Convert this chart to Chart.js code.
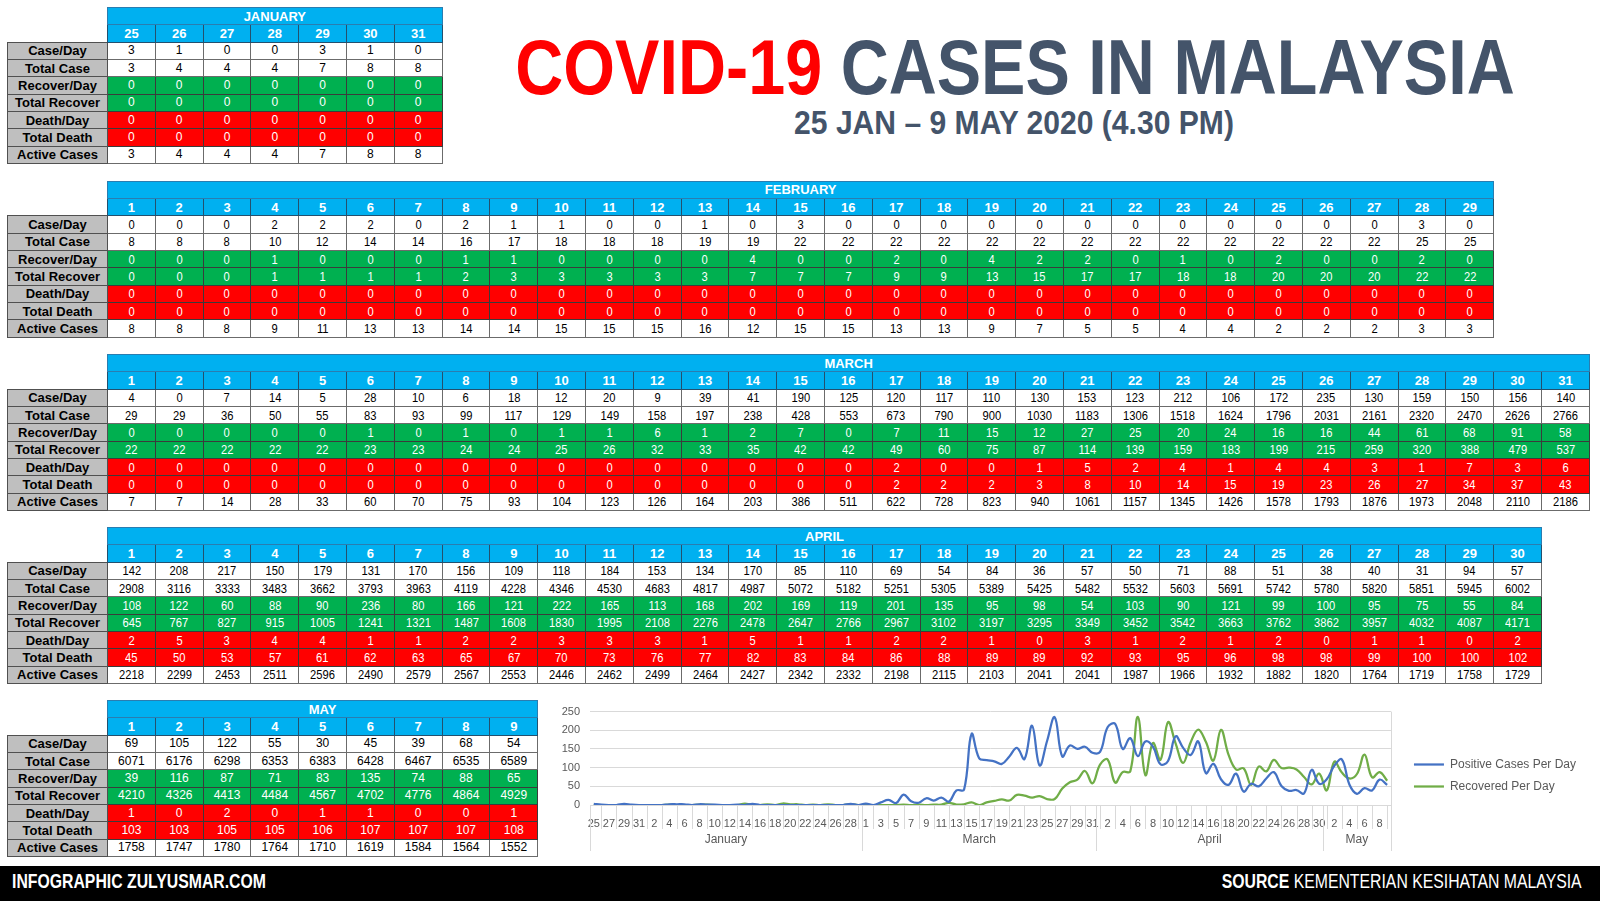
<!DOCTYPE html>
<html>
<head>
<meta charset="utf-8">
<script src="https://cdn.jsdelivr.net/npm/chart.js@4.4.0/dist/chart.umd.min.js"></script>
<style>
  html, body { margin: 0; padding: 0; background: #fff; }
  body { width: 1600px; height: 901px; position: relative; overflow: hidden;
         font-family: "Liberation Sans", Arial, sans-serif; }
  .tbl { position: absolute; left: 7px; border-collapse: collapse; table-layout: fixed; }
  .tbl td { padding: 0; height: 16.35px; text-align: center; font-size: 12px; line-height: 15px;
            white-space: nowrap; overflow: hidden; border: 1px solid #3b3b3b; }
  .tbl td.blank { border: none; background: transparent; }
  .tbl td.month { background: #00B0F0; color: #fff; font-weight: bold; font-size: 13px;
                  border: 1px solid #2a7db0; }
  .tbl td.date { background: #00B0F0; color: #fff; font-weight: bold; font-size: 13px;
                 border-color: #24506e; }
  .tbl td.lab { background: #BFBFBF; color: #000; font-weight: bold; font-size: 13px;
                border-color: #505050; }
  .tbl td.w { background: #fff; color: #000; border-color: #6b6b6b; }
  .tbl td.g { background: #00B050; color: #fff; }
  .tbl td.r { background: #FF0000; color: #fff; }
  .tbl.narrow td.w, .tbl.narrow td.g, .tbl.narrow td.r { font-size: 13px; }
  .tbl.narrow span { display: inline-block; transform: scaleX(0.86); }
  #title { position: absolute; left: 1015px; top: 28px; font-weight: bold; font-size: 78px;
           line-height: 78px; color: #44546A; white-space: nowrap;
           transform: translateX(-50%) scaleX(0.853); }
  #title .red { color: #FF0000; }
  #sub { position: absolute; left: 1014px; top: 105px; font-weight: bold; font-size: 34px;
         line-height: 34px; color: #44546A; white-space: nowrap;
         transform: translateX(-50%) scaleX(0.885); }
  #footer { position: absolute; left: 0; top: 866px; width: 1600px; height: 35px; background: #000; }
  #footer .l { position: absolute; left: 12px; top: 5px; font: bold 20px/20px "Liberation Sans", Arial, sans-serif;
               color: #fff; white-space: nowrap; transform: scaleX(0.79); transform-origin: left center; }
  #footer .rt { position: absolute; right: 18px; top: 5px; font: 20px/20px "Liberation Sans", Arial, sans-serif;
                color: #fff; white-space: nowrap; transform: scaleX(0.79); transform-origin: right center; }
  #chartBox { position: absolute; left: 548px; top: 695px; width: 1038px; height: 165px; }
</style>
</head>
<body>
<div id="tables"></div>
<div id="title"><span class="red">COVID-19</span> CASES IN MALAYSIA</div>
<div id="sub">25 JAN – 9 MAY 2020 (4.30 PM)</div>
<div id="chartBox"><canvas id="myChart"></canvas></div>
<div id="footer">
  <div class="l">INFOGRAPHIC ZULYUSMAR.COM</div>
  <div class="rt"><b>SOURCE</b> KEMENTERIAN KESIHATAN MALAYSIA</div>
</div>
<script>
// row labels of every month table
const rowLabels = ["Case/Day", "Total Case", "Recover/Day", "Total Recover", "Death/Day", "Total Death", "Active Cases"];
const rowColors = ["w", "w", "g", "g", "r", "r", "w"];

// January (25-31)
const janDays = [25, 26, 27, 28, 29, 30, 31];
const janCases = [3, 1, 0, 0, 3, 1, 0];
const janTotal = [3, 4, 4, 4, 7, 8, 8];
const janRecDay = [0, 0, 0, 0, 0, 0, 0];
const janTotRec = [0, 0, 0, 0, 0, 0, 0];
const janDeathDay = [0, 0, 0, 0, 0, 0, 0];
const janTotDeath = [0, 0, 0, 0, 0, 0, 0];
const janActive = [3, 4, 4, 4, 7, 8, 8];

// February
const febDays = [1, 2, 3, 4, 5, 6, 7, 8, 9, 10, 11, 12, 13, 14, 15, 16, 17, 18, 19, 20, 21, 22, 23, 24, 25, 26, 27, 28, 29];
const febCases = [0, 0, 0, 2, 2, 2, 0, 2, 1, 1, 0, 0, 1, 0, 3, 0, 0, 0, 0, 0, 0, 0, 0, 0, 0, 0, 0, 3, 0];
const febTotal = [8, 8, 8, 10, 12, 14, 14, 16, 17, 18, 18, 18, 19, 19, 22, 22, 22, 22, 22, 22, 22, 22, 22, 22, 22, 22, 22, 25, 25];
const febRecDay = [0, 0, 0, 1, 0, 0, 0, 1, 1, 0, 0, 0, 0, 4, 0, 0, 2, 0, 4, 2, 2, 0, 1, 0, 2, 0, 0, 2, 0];
const febTotRec = [0, 0, 0, 1, 1, 1, 1, 2, 3, 3, 3, 3, 3, 7, 7, 7, 9, 9, 13, 15, 17, 17, 18, 18, 20, 20, 20, 22, 22];
const febDeathDay = [0, 0, 0, 0, 0, 0, 0, 0, 0, 0, 0, 0, 0, 0, 0, 0, 0, 0, 0, 0, 0, 0, 0, 0, 0, 0, 0, 0, 0];
const febTotDeath = [0, 0, 0, 0, 0, 0, 0, 0, 0, 0, 0, 0, 0, 0, 0, 0, 0, 0, 0, 0, 0, 0, 0, 0, 0, 0, 0, 0, 0];
const febActive = [8, 8, 8, 9, 11, 13, 13, 14, 14, 15, 15, 15, 16, 12, 15, 15, 13, 13, 9, 7, 5, 5, 4, 4, 2, 2, 2, 3, 3];

// March
const marDays = [1, 2, 3, 4, 5, 6, 7, 8, 9, 10, 11, 12, 13, 14, 15, 16, 17, 18, 19, 20, 21, 22, 23, 24, 25, 26, 27, 28, 29, 30, 31];
const marCases = [4, 0, 7, 14, 5, 28, 10, 6, 18, 12, 20, 9, 39, 41, 190, 125, 120, 117, 110, 130, 153, 123, 212, 106, 172, 235, 130, 159, 150, 156, 140];
const marTotal = [29, 29, 36, 50, 55, 83, 93, 99, 117, 129, 149, 158, 197, 238, 428, 553, 673, 790, 900, 1030, 1183, 1306, 1518, 1624, 1796, 2031, 2161, 2320, 2470, 2626, 2766];
const marRecDay = [0, 0, 0, 0, 0, 1, 0, 1, 0, 1, 1, 6, 1, 2, 7, 0, 7, 11, 15, 12, 27, 25, 20, 24, 16, 16, 44, 61, 68, 91, 58];
const marTotRec = [22, 22, 22, 22, 22, 23, 23, 24, 24, 25, 26, 32, 33, 35, 42, 42, 49, 60, 75, 87, 114, 139, 159, 183, 199, 215, 259, 320, 388, 479, 537];
const marDeathDay = [0, 0, 0, 0, 0, 0, 0, 0, 0, 0, 0, 0, 0, 0, 0, 0, 2, 0, 0, 1, 5, 2, 4, 1, 4, 4, 3, 1, 7, 3, 6];
const marTotDeath = [0, 0, 0, 0, 0, 0, 0, 0, 0, 0, 0, 0, 0, 0, 0, 0, 2, 2, 2, 3, 8, 10, 14, 15, 19, 23, 26, 27, 34, 37, 43];
const marActive = [7, 7, 14, 28, 33, 60, 70, 75, 93, 104, 123, 126, 164, 203, 386, 511, 622, 728, 823, 940, 1061, 1157, 1345, 1426, 1578, 1793, 1876, 1973, 2048, 2110, 2186];

// April
const aprDays = [1, 2, 3, 4, 5, 6, 7, 8, 9, 10, 11, 12, 13, 14, 15, 16, 17, 18, 19, 20, 21, 22, 23, 24, 25, 26, 27, 28, 29, 30];
const aprCases = [142, 208, 217, 150, 179, 131, 170, 156, 109, 118, 184, 153, 134, 170, 85, 110, 69, 54, 84, 36, 57, 50, 71, 88, 51, 38, 40, 31, 94, 57];
const aprTotal = [2908, 3116, 3333, 3483, 3662, 3793, 3963, 4119, 4228, 4346, 4530, 4683, 4817, 4987, 5072, 5182, 5251, 5305, 5389, 5425, 5482, 5532, 5603, 5691, 5742, 5780, 5820, 5851, 5945, 6002];
const aprRecDay = [108, 122, 60, 88, 90, 236, 80, 166, 121, 222, 165, 113, 168, 202, 169, 119, 201, 135, 95, 98, 54, 103, 90, 121, 99, 100, 95, 75, 55, 84];
const aprTotRec = [645, 767, 827, 915, 1005, 1241, 1321, 1487, 1608, 1830, 1995, 2108, 2276, 2478, 2647, 2766, 2967, 3102, 3197, 3295, 3349, 3452, 3542, 3663, 3762, 3862, 3957, 4032, 4087, 4171];
const aprDeathDay = [2, 5, 3, 4, 4, 1, 1, 2, 2, 3, 3, 3, 1, 5, 1, 1, 2, 2, 1, 0, 3, 1, 2, 1, 2, 0, 1, 1, 0, 2];
const aprTotDeath = [45, 50, 53, 57, 61, 62, 63, 65, 67, 70, 73, 76, 77, 82, 83, 84, 86, 88, 89, 89, 92, 93, 95, 96, 98, 98, 99, 100, 100, 102];
const aprActive = [2218, 2299, 2453, 2511, 2596, 2490, 2579, 2567, 2553, 2446, 2462, 2499, 2464, 2427, 2342, 2332, 2198, 2115, 2103, 2041, 2041, 1987, 1966, 1932, 1882, 1820, 1764, 1719, 1758, 1729];

// May (1-9)
const mayDays = [1, 2, 3, 4, 5, 6, 7, 8, 9];
const mayCases = [69, 105, 122, 55, 30, 45, 39, 68, 54];
const mayTotal = [6071, 6176, 6298, 6353, 6383, 6428, 6467, 6535, 6589];
const mayRecDay = [39, 116, 87, 71, 83, 135, 74, 88, 65];
const mayTotRec = [4210, 4326, 4413, 4484, 4567, 4702, 4776, 4864, 4929];
const mayDeathDay = [1, 0, 2, 0, 1, 1, 0, 0, 1];
const mayTotDeath = [103, 103, 105, 105, 106, 107, 107, 107, 108];
const mayActive = [1758, 1747, 1780, 1764, 1710, 1619, 1584, 1564, 1552];

// chart axis groups (Excel merged Jan+Feb under "January")
const groupNames = ["January", "March", "April", "May"];
const groupSizes = [janDays.length + febDays.length, marDays.length, aprDays.length, mayDays.length];

function buildTable(name, days, rows, top, narrow) {
  const colW = 47.8;
  let html = '<table class="tbl' + (narrow ? ' narrow' : '') + '" style="top:' + top + 'px;width:' +
    (100 + days.length * colW) + 'px"><colgroup><col style="width:100px">';
  days.forEach(() => { html += '<col style="width:' + colW + 'px">'; });
  html += '</colgroup>';
  html += '<tr><td class="blank"></td><td class="month" colspan="' + days.length + '">' + name + '</td></tr>';
  html += '<tr><td class="blank"></td>' + days.map(d => '<td class="date">' + d + '</td>').join('') + '</tr>';
  rows.forEach((vals, r) => {
    html += '<tr><td class="lab">' + rowLabels[r] + '</td>' +
      vals.map(v => '<td class="' + rowColors[r] + '"><span>' + v + '</span></td>').join('') + '</tr>';
  });
  return html + '</table>';
}

document.getElementById("tables").innerHTML =
  buildTable("JANUARY", janDays, [janCases, janTotal, janRecDay, janTotRec, janDeathDay, janTotDeath, janActive], 7, false) +
  buildTable("FEBRUARY", febDays, [febCases, febTotal, febRecDay, febTotRec, febDeathDay, febTotDeath, febActive], 180.5, true) +
  buildTable("MARCH", marDays, [marCases, marTotal, marRecDay, marTotRec, marDeathDay, marTotDeath, marActive], 354, true) +
  buildTable("APRIL", aprDays, [aprCases, aprTotal, aprRecDay, aprTotRec, aprDeathDay, aprTotDeath, aprActive], 527, true) +
  buildTable("MAY", mayDays, [mayCases, mayTotal, mayRecDay, mayTotRec, mayDeathDay, mayTotDeath, mayActive], 700, false);

// chart series
const dayLabels = [...janDays, ...febDays, ...marDays, ...aprDays, ...mayDays];
const positivePerDay = [...janCases, ...febCases, ...marCases, ...aprCases, ...mayCases];
const recoveredPerDay = [...janRecDay, ...febRecDay, ...marRecDay, ...aprRecDay, ...mayRecDay];

// draws the separators and the month row under the day labels
const axisGroups = {
  id: "axisGroups",
  afterDraw(chart) {
    const xs = chart.scales.x;
    const ctx = chart.ctx;
    const step = xs.getPixelForValue(1) - xs.getPixelForValue(0);
    const y0 = xs.top;
    ctx.save();
    ctx.strokeStyle = "#D9D9D9";
    ctx.lineWidth = 1;
    for (let i = 1; i < dayLabels.length; i += 2) {
      const x = Math.round(xs.getPixelForValue(i)) + 0.5;
      ctx.beginPath(); ctx.moveTo(x, y0); ctx.lineTo(x, y0 + 24); ctx.stroke();
    }
    ctx.fillStyle = "#595959";
    ctx.font = '12px "Liberation Sans", Arial, sans-serif';
    ctx.textAlign = "center";
    ctx.textBaseline = "middle";
    let from = 0;
    groupSizes.forEach((n, g) => {
      const left = xs.getPixelForValue(from) - step / 2;
      const right = xs.getPixelForValue(from + n - 1) + step / 2;
      [left, right].forEach(x => {
        const px = Math.round(x) + 0.5;
        ctx.beginPath(); ctx.moveTo(px, y0); ctx.lineTo(px, y0 + 46); ctx.stroke();
      });
      ctx.fillText(groupNames[g], (left + right) / 2, y0 + 35);
      from += n;
    });
    // right edge of the plot
    const rx = Math.round(chart.chartArea.right) + 0.5;
    ctx.beginPath(); ctx.moveTo(rx, chart.chartArea.top); ctx.lineTo(rx, y0); ctx.stroke();
    ctx.restore();
  }
};

// leaves a gap between the plot and the legend
const legendGap = {
  id: "legendGap",
  beforeLayout(chart) {
    const lg = chart.legend;
    if (lg && !lg._gapPatched) {
      const fit = lg.fit;
      lg.fit = function () { fit.call(this); this.width += 13; };
      lg._gapPatched = true;
    }
  },
  afterLayout(chart) {
    if (chart.legend) {
      chart.legend.left += 13;
      chart.legend.top -= 2;
      chart.legend.bottom -= 2;
    }
  }
};

Chart.defaults.font.family = '"Liberation Sans", Arial, sans-serif';
Chart.defaults.color = "#595959";

new Chart(document.getElementById("myChart"), {
  type: "line",
  data: {
    labels: dayLabels,
    datasets: [
      {
        label: "Positive Cases Per Day",
        data: positivePerDay,
        borderColor: "#4472C4",
        backgroundColor: "#4472C4",
        borderWidth: 2.25,
        pointRadius: 0,
        tension: 0.4,
      },
      {
        label: "Recovered Per Day",
        data: recoveredPerDay,
        borderColor: "#70AD47",
        backgroundColor: "#70AD47",
        borderWidth: 2.25,
        pointRadius: 0,
        tension: 0.4,
      },
    ],
  },
  options: {
    responsive: true,
    maintainAspectRatio: false,
    animation: false,
    layout: { padding: { top: 5, bottom: 5 } },
    plugins: {
      tooltip: { enabled: false },
      legend: {
        display: true,
        position: "right",
        labels: {
          usePointStyle: true,
          pointStyle: "line",
          pointStyleWidth: 30,
          boxHeight: 12,
          padding: 10,
          color: "#595959",
          font: { size: 12 },
        },
      },
    },
    scales: {
      x: {
        offset: true,
        afterFit: (s) => { s.height = 50; },
        grid: { display: false },
        border: { color: "#D9D9D9" },
        ticks: {
          autoSkip: false,
          maxRotation: 0,
          padding: 4,
          font: { size: 11 },
          color: "#595959",
          callback: (v, i) => (i % 2 === 0 ? dayLabels[i] : ""),
        },
      },
      y: {
        min: 0,
        max: 250,
        afterFit: (s) => { s.width = 42; },
        border: { display: false },
        grid: {
          drawTicks: false,
          color: (c) => (c.tick && c.tick.value % 50 === 0 ? "#D9D9D9" : "#F0F0F0"),
        },
        ticks: {
          stepSize: 10,
          padding: 10,
          font: { size: 11 },
          color: "#595959",
          callback: (v) => (v % 50 === 0 ? v : ""),
        },
      },
    },
  },
  plugins: [axisGroups, legendGap],
});
</script>
</body>
</html>
